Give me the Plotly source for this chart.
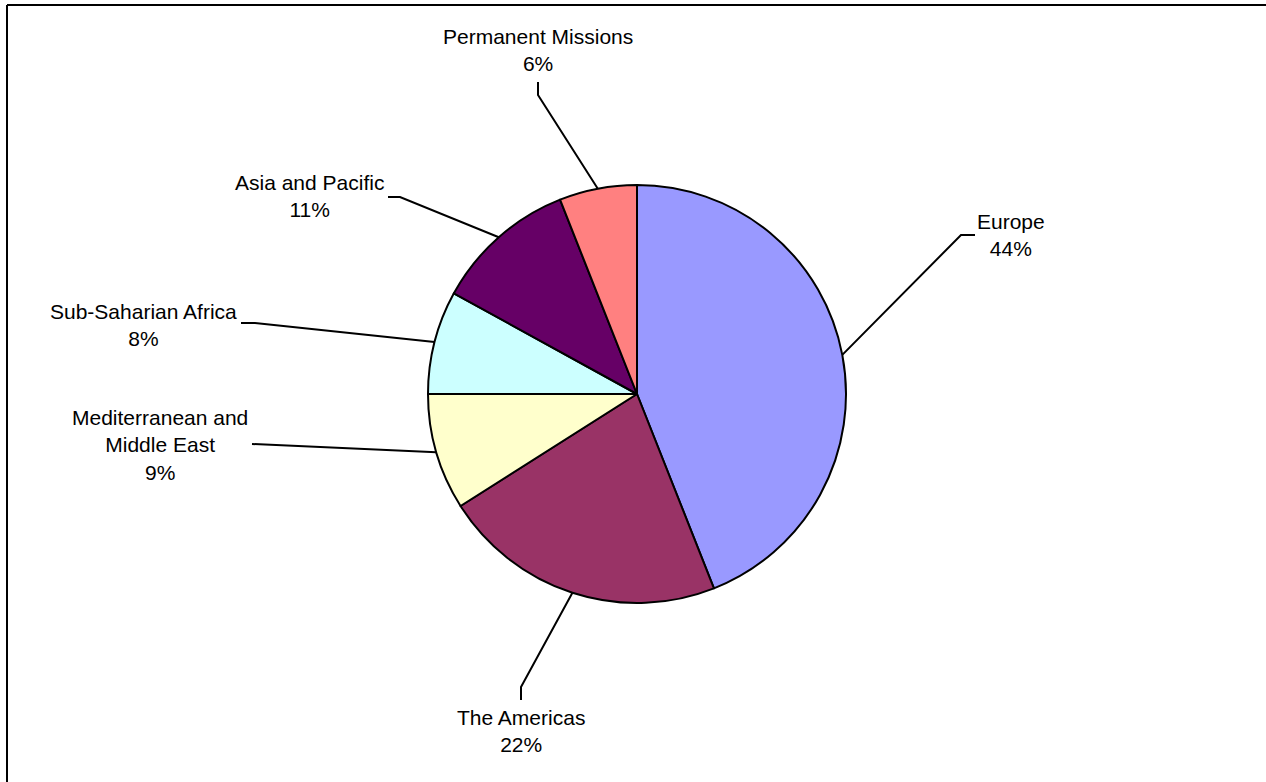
import math
import plotly.graph_objects as go

# ---- data -------------------------------------------------------------
regions = [
    "Europe",
    "The Americas",
    "Mediterranean and<br>Middle East",
    "Sub-Saharian Africa",
    "Asia and Pacific",
    "Permanent Missions",
]
shares = [44, 22, 9, 8, 11, 6]

# ---- styling ----------------------------------------------------------
slice_colors = ["#9999FF", "#993366", "#FFFFCC", "#CCFFFF", "#660066", "#FF8080"]
FONT = "Liberation Sans, Arial, sans-serif"
W, H = 1266, 782
CX, CY, R = 637, 394, 209          # pie centre and radius (px)

# leader-line elbow, leader end and label centre for each slice (px)
label_layout = [
    dict(elbow=(961, 235), end=(975, 235), text=(1011, 235)),
    dict(elbow=(521, 687), end=(521, 700), text=(521, 731)),
    dict(elbow=(265, 444), end=(252, 444), text=(160, 445)),
    dict(elbow=(255, 323), end=(241, 323), text=(143, 325)),
    dict(elbow=(400, 197), end=(388, 197), text=(309, 196)),
    dict(elbow=(538, 95), end=(538, 82), text=(538, 50)),
]

fig = go.Figure()

fig.add_trace(go.Pie(
    labels=regions,
    values=shares,
    sort=False,
    direction="clockwise",
    rotation=0,
    textinfo="none",
    hoverinfo="label+percent",
    showlegend=False,
    marker=dict(colors=slice_colors, line=dict(color="black", width=2)),
    domain=dict(x=[(CX - R) / W, (CX + R) / W],
                y=[(H - CY - R) / H, (H - CY + R) / H]),
))

# leader lines start at the rim, at each slice's mid angle
total = sum(shares)
cum = 0.0
annotations = []
for name, value, lay in zip(regions, shares, label_layout):
    mid = (cum + value / 2) / total * 2 * math.pi
    cum += value
    ex = CX + R * math.sin(mid)
    ey = CY - R * math.cos(mid)
    fig.add_trace(go.Scatter(
        x=[ex, lay["elbow"][0], lay["end"][0]],
        y=[ey, lay["elbow"][1], lay["end"][1]],
        mode="lines",
        line=dict(color="black", width=2),
        hoverinfo="skip",
        showlegend=False,
    ))
    pct = round(value / total * 100)
    annotations.append(dict(
        x=lay["text"][0], y=lay["text"][1], xref="x", yref="y",
        text=f"{name}<br>{pct}%", showarrow=False,
        xanchor="center", yanchor="middle", align="center",
        font=dict(family=FONT, size=21, color="black"),
    ))

# chart frame
shapes = [
    dict(type="line", xref="x", yref="y", x0=7, y0=5, x1=W, y1=5,
         line=dict(color="black", width=2)),
    dict(type="line", xref="x", yref="y", x0=7, y0=5, x1=7, y1=H,
         line=dict(color="black", width=2)),
]

fig.update_layout(
    width=W, height=H,
    margin=dict(l=0, r=0, t=0, b=0),
    paper_bgcolor="white", plot_bgcolor="white",
    xaxis=dict(range=[0, W], visible=False, domain=[0, 1], fixedrange=True),
    yaxis=dict(range=[H, 0], visible=False, domain=[0, 1], fixedrange=True),
    annotations=annotations,
    shapes=shapes,
    font=dict(family=FONT),
)

fig.write_html("out.html", config={"displayModeBar": False})
